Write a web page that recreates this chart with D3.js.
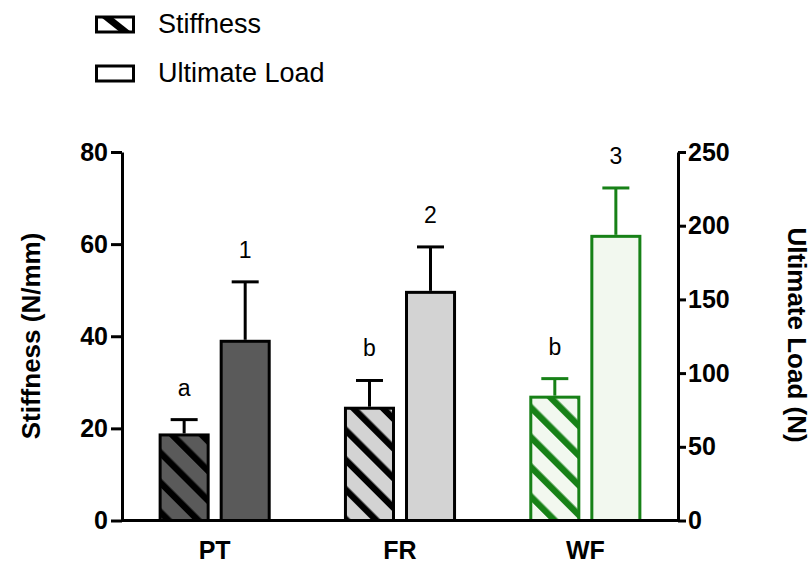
<!DOCTYPE html>
<html>
<head>
<meta charset="utf-8">
<script src="https://cdn.jsdelivr.net/npm/d3@7"></script>
<style>
    body { margin: 0; background: #fff; }
    text { font-family: Arial, "Liberation Sans", Helvetica, sans-serif; }
</style>
</head>
<body>
<div class="output"></div>
<script>
// Данные
let groups = ["PT", "FR", "WF"];
let stiffness = [18.9, 24.7, 27.1];
let stiffnessErr = [3.0, 5.7, 3.7];
let ultimate = [122.6, 155.8, 193.8];
let ultimateErr = [39.3, 29.8, 31.8];
let stiffLetters = ["a", "b", "b"];
let ultLetters = ["1", "2", "3"];
let leftTicks = [0, 20, 40, 60, 80];
let rightTicks = [0, 50, 100, 150, 200, 250];

// Палитра
let fills = { PT: "#5a5a5a", FR: "#d3d3d3", WF: "#f2f8ef" };
let strokes = { PT: "#000", FR: "#000", WF: "#178117" };

let width = 811, height = 565;
let svg = d3.select(".output")
    .append("svg")
    .attr("width", width)
    .attr("height", height);

let defs = svg.append("defs");
function hatch(id, bg, fg, size) {
    let p = defs.append("pattern")
        .attr("id", id)
        .attr("patternUnits", "userSpaceOnUse")
        .attr("width", size)
        .attr("height", size)
        .attr("patternTransform", "rotate(-45)");
    p.append("rect").attr("width", size).attr("height", size).attr("fill", bg);
    p.append("rect").attr("width", 6.5).attr("height", size).attr("fill", fg);
}
groups.forEach(g => hatch("hatch-" + g, fills[g], strokes[g], 21));

let x0 = 122, x1 = 678, yTop = 152, yBottom = 520.5;

// Ось X
let x = d3.scaleBand()
    .domain(groups)
    .range([x0, x1]);
let xSub = d3.scaleBand()
    .domain(["stiff", "ult"])
    .range([0, x.bandwidth()])
    .paddingInner(0.164)
    .paddingOuter(0.6);

// Оси Y
let yL = d3.scaleLinear().domain([0, 80]).range([yBottom, yTop]);
let yR = d3.scaleLinear().domain([0, 250]).range([yBottom, yTop]);

let bars = [];
groups.forEach((g, i) => {
    bars.push({ group: g, key: "stiff", value: stiffness[i], err: stiffnessErr[i], label: stiffLetters[i], y: yL });
    bars.push({ group: g, key: "ult", value: ultimate[i], err: ultimateErr[i], label: ultLetters[i], y: yR });
});

// Столбцы
let bar = svg.selectAll("g.bar")
    .data(bars)
    .enter()
    .append("g")
    .attr("class", "bar");

bar.append("rect")
    .attr("x", d => x(d.group) + xSub(d.key) + 1.5)
    .attr("y", d => d.y(d.value) + 1.5)
    .attr("width", xSub.bandwidth() - 3)
    .attr("height", d => d.y(0) - d.y(d.value) - 1.5)
    .attr("fill", d => d.key === "stiff" ? "url(#hatch-" + d.group + ")" : fills[d.group])
    .attr("stroke", d => strokes[d.group])
    .attr("stroke-width", 3);

// Погрешности
let cx = d => x(d.group) + xSub(d.key) + xSub.bandwidth() / 2;
bar.append("line")
    .attr("x1", cx).attr("x2", cx)
    .attr("y1", d => d.y(d.value))
    .attr("y2", d => d.y(d.value + d.err))
    .attr("stroke", d => strokes[d.group])
    .attr("stroke-width", 3);
bar.append("line")
    .attr("x1", d => cx(d) - 13.5).attr("x2", d => cx(d) + 13.5)
    .attr("y1", d => d.y(d.value + d.err))
    .attr("y2", d => d.y(d.value + d.err))
    .attr("stroke", d => strokes[d.group])
    .attr("stroke-width", 3);

bar.append("text")
    .attr("x", cx)
    .attr("y", d => d.y(d.value + d.err) - 24)
    .attr("text-anchor", "middle")
    .style("font-size", "23px")
    .text(d => d.label);

// Оси
function styleAxis(g) {
    g.selectAll("path, line").attr("stroke", "#000").attr("stroke-width", 3);
    g.selectAll("text")
        .style("font-size", "25px")
        .style("font-weight", "bold")
        .attr("fill", "#000");
}

svg.append("g")
    .attr("transform", "translate(" + x0 + ",0)")
    .call(d3.axisLeft(yL).tickValues(leftTicks).tickSize(11).tickSizeOuter(0).tickPadding(3))
    .call(styleAxis);

svg.append("g")
    .attr("transform", "translate(" + x1 + ",0)")
    .call(d3.axisRight(yR).tickValues(rightTicks).tickSize(8).tickSizeOuter(0).tickPadding(2))
    .call(styleAxis);

let xAxis = svg.append("g")
    .attr("transform", "translate(0," + yBottom + ")")
    .call(d3.axisBottom(x).tickSize(0).tickSizeOuter(0).tickPadding(21))
    .call(styleAxis);
xAxis.select(".domain").attr("d", "M" + x0 + ",0H" + x1);

// Подписи осей
svg.append("text")
    .attr("transform", "translate(31,336) rotate(-90)")
    .attr("text-anchor", "middle")
    .attr("dominant-baseline", "central")
    .style("font-size", "26px")
    .style("font-weight", "bold")
    .text("Stiffness (N/mm)");

svg.append("text")
    .attr("transform", "translate(797,335) rotate(90)")
    .attr("text-anchor", "middle")
    .attr("dominant-baseline", "central")
    .style("font-size", "26px")
    .style("font-weight", "bold")
    .text("Ultimate Load (N)");

// Легенда
let legend = [
    { name: "Stiffness", hatched: true, y: 17 },
    { name: "Ultimate Load", hatched: false, y: 66 }
];
defs.append("clipPath")
    .attr("id", "legend-clip")
    .append("rect")
    .attr("x", 96.5).attr("y", 17)
    .attr("width", 37).attr("height", 15);

let lg = svg.selectAll("g.legend")
    .data(legend)
    .enter()
    .append("g")
    .attr("class", "legend");
lg.append("rect")
    .attr("x", 96.5)
    .attr("y", d => d.y)
    .attr("width", 37)
    .attr("height", 15)
    .attr("fill", "#fff");
lg.filter(d => d.hatched)
    .append("line")
    .attr("clip-path", "url(#legend-clip)")
    .attr("x1", 104).attr("y1", d => d.y - 2)
    .attr("x2", 128).attr("y2", d => d.y + 17)
    .attr("stroke", "#000")
    .attr("stroke-width", 7);
lg.append("rect")
    .attr("x", 96.5)
    .attr("y", d => d.y)
    .attr("width", 37)
    .attr("height", 15)
    .attr("fill", "none")
    .attr("stroke", "#000")
    .attr("stroke-width", 3);
lg.append("text")
    .attr("x", 158)
    .attr("y", d => d.y + 16)
    .style("font-size", "27px")
    .text(d => d.name);
</script>
</body>
</html>
